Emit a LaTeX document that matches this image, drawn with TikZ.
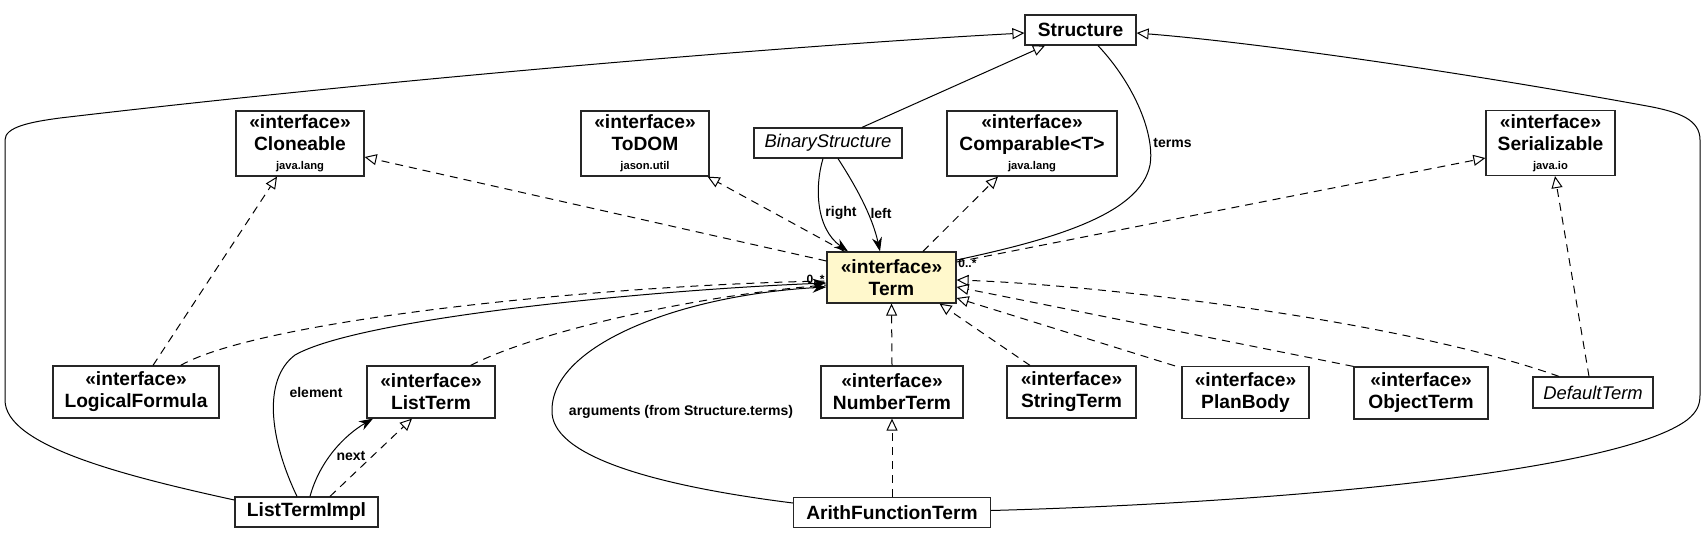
\documentclass[tikz,border=0pt]{standalone}
\usepackage{fontspec}
\setmainfont{Liberation Sans}
\usepackage{xcolor}
\usetikzlibrary{arrows.meta, positioning, calc}
\definecolor{termfill}{HTML}{FFF8CC}
\newcommand{\stereo}{«interface»}
\newcommand{\pkg}[1]{{\fontsize{5.6}{7}\selectfont #1}}

\begin{document}
\begin{tikzpicture}[
    x=0.5pt, y=-0.5pt,
    klass/.style={draw=black!85, fill=white, line width=0.6pt, inner sep=0pt, align=center, font=\fontsize{9.6}{11}\selectfont\bfseries, minimum width=#1, minimum height=15pt},
    iface/.style={klass=#1, minimum height=26pt},
    ifacepkg/.style={klass=#1, minimum height=32.5pt},
    abstr/.style={klass=#1, font=\fontsize{9.2}{11}\selectfont\itshape},
    inherit/.style={-{Triangle[open, length=6pt, width=5.5pt]}, line width=0.5pt},
    realize/.style={inherit, dash pattern=on 4pt off 3pt},
    dashline/.style={line width=0.5pt, dash pattern=on 4pt off 3pt},
    assoc/.style={-{Stealth[length=7pt, width=5pt]}, line width=0.5pt},
    plainline/.style={line width=0.5pt},
    rolelabel/.style={font=\fontsize{7}{8}\selectfont\bfseries, inner sep=1pt},
    multlabel/.style={font=\fontsize{6}{7}\selectfont\bfseries, inner sep=0.5pt}
]
\useasboundingbox (0,0) rectangle (1707,541);

\node[klass=55.5pt] (struct) at (1080.5,30) {Structure};
\node[ifacepkg=64pt] (cloneable) at (300,143.5) {\stereo\\Cloneable\\[-1.5pt]\pkg{java.lang}};
\node[ifacepkg=64pt] (todom) at (645,143.5) {\stereo\\ToDOM\\[-1.5pt]\pkg{jason.util}};
\node[abstr=74pt] (binstr) at (828,143) {BinaryStructure};
\node[ifacepkg=85pt] (comparable) at (1032,143.5) {\stereo\\Comparable<T>\\[-1.5pt]\pkg{java.lang}};
\node[ifacepkg=64.5pt] (serial) at (1550.5,143) {\stereo\\Serializable\\[-1.5pt]\pkg{java.io}};
\node[iface=64.5pt, minimum height=25.5pt, fill=termfill] (term) at (891.5,277.5) {\stereo\\Term};
\node[iface=83pt] (logform) at (136,392) {\stereo\\LogicalFormula};
\node[iface=64pt] (listterm) at (431,392) {\stereo\\ListTerm};
\node[iface=71pt] (numterm) at (892,392) {\stereo\\NumberTerm};
\node[iface=64.5pt] (strterm) at (1071.5,392) {\stereo\\StringTerm};
\node[iface=63.5pt] (planbody) at (1245.5,392.5) {\stereo\\PlanBody};
\node[iface=67pt] (objterm) at (1421,393) {\stereo\\ObjectTerm};
\node[abstr=60pt, minimum height=15.5pt] (defterm) at (1593,392.5) {DefaultTerm};
\node[klass=71.5pt] (ltimpl) at (306.5,512) {ListTermImpl};
\node[klass=98.5pt] (arith) at (892,512.5) {ArithFunctionTerm};

\draw[inherit] ($(ltimpl.west)+(0,-12)$) .. controls (120,475) and (5,445) .. (5,400) -- (5,140)
    .. controls (5,127) and (30,122) .. (60,118) .. controls (400,78) and (800,45) .. ($(struct.west)+(0,3)$);
\draw[inherit] ($(arith.east)+(0,-2)$) .. controls (1300,502) and (1620,470) .. (1687,420)
    .. controls (1697,412) and (1700,405) .. (1700,395) -- (1700,140)
    .. controls (1700,120) and (1680,112) .. (1647,106) .. controls (1450,70) and (1250,42) .. ($(struct.east)+(0,3)$);
\draw[inherit] ($(binstr.north)+(34,0)$) -- ($(struct.south)+(-35.5,0)$);
\draw[plainline] ($(struct.south)+(17.5,0)$) .. controls (1135,85) and (1155,135) .. (1150,165)
    .. controls (1140,215) and (1050,240) .. ($(term.east)+(0,-17.5)$);
\draw[assoc] ($(binstr.south)+(-5,0)$) .. controls (815,185) and (815,228) .. ($(term.north)+(-43.5,0)$);
\draw[assoc] ($(binstr.south)+(10,0)$) .. controls (855,185) and (872,215) .. ($(term.north)+(-11.5,0)$);

\draw[realize] ($(term.west)+(0,-16.5)$) -- ($(cloneable.east)+(0,13.5)$);
\draw[realize] ($(term.north west)+(18,0)$) -- ($(todom.south east)+(-2,0)$);
\draw[realize] ($(term.north)+(31.5,0)$) -- ($(comparable.south)+(-34,0)$);
\draw[realize] ($(term.east)+(0,-15.5)$) -- ($(serial.west)+(0,15)$);
\draw[realize] ($(logform.north)+(17,0)$) -- ($(cloneable.south)+(-23,0)$);
\draw[dashline] ($(logform.north east)+(-39,0)$) .. controls (260,320) and (600,285) .. ($(term.west)+(0,3.5)$);
\draw[dashline] ($(listterm.north east)+(-25,0)$) .. controls (540,330) and (700,295) .. ($(term.west)+(0,7.5)$);
\draw[assoc] ($(ltimpl.north)+(-9.5,0)$) .. controls (270,440) and (262,380) .. (295,355)
    .. controls (360,318) and (650,290) .. ($(term.west)+(0,5.5)$);
\draw[assoc] ($(ltimpl.north)+(3.5,0)$) .. controls (320,460) and (345,435) .. ($(listterm.south)+(-58,0)$);
\draw[realize] ($(ltimpl.north)+(23.5,0)$) -- ($(listterm.south)+(-19,0)$);
\draw[assoc] ($(arith.west)+(0,-9.5)$) .. controls (650,485) and (550,455) .. (552,410)
    .. controls (552,345) and (680,295) .. ($(term.west)+(0,9.5)$);
\draw[realize] (numterm.north) -- (term.south);
\draw[realize] (arith.north) -- (numterm.south);
\draw[realize] ($(strterm.north)+(-41.5,0)$) -- ($(term.south)+(48,0)$);
\draw[realize] ($(planbody.north)+(-70.5,0)$) -- ($(term.east)+(0,20.5)$);
\draw[realize] (objterm.north west) -- ($(term.east)+(0,9.5)$);
\draw[realize] ($(defterm.north)+(-34,0)$) .. controls (1400,320) and (1100,285) .. ($(term.east)+(0,2.5)$);
\draw[realize] ($(defterm.north)+(-4,0)$) -- ($(serial.south)+(4.5,0)$);

\node[rolelabel, anchor=west] (lterms) at (1151,143) {terms};
\node[rolelabel] (lright) at (841,213) {right};
\node[rolelabel] (lleft) at (881,213) {left};
\node[rolelabel] (lelem) at (316,392) {element};
\node[rolelabel] (lnext) at (351,456) {next};
\node[rolelabel] (largs) at (681,412) {arguments (from Structure.terms)};
\node[multlabel, anchor=west] (mterms) at (957,263) {0..*};
\node[multlabel, anchor=east] (margs) at (826,279) {0..*};

\end{tikzpicture}
\end{document}
